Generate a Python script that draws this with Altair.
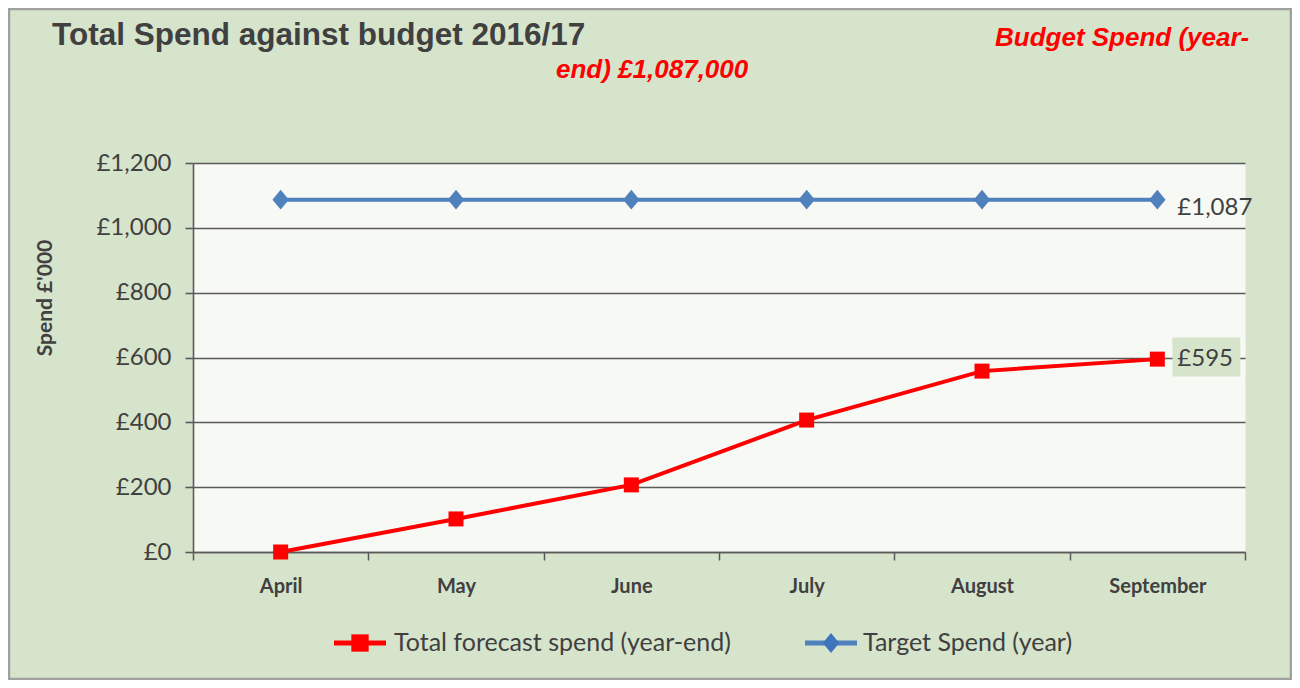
import altair as alt
import pandas as pd

months = ["April", "May", "June", "July", "August", "September"]
forecast = [0, 102, 207, 407, 558, 595]
target = [1087, 1087, 1087, 1087, 1087, 1087]
series_names = ["Total forecast spend (year-end)", "Target Spend (year)"]
series_colors = ["#FF0000", "#4F81BD"]
y_ticks = [0, 200, 400, 600, 800, 1000, 1200]

title_text = "Total Spend against budget 2016/17"
note_line1 = "Budget Spend (year-"
note_line2 = "end) £1,087,000"
y_title = "Spend £'000"

rows = []
for m, v in zip(months, forecast):
    rows.append({"month": m, "value": v, "series": series_names[0]})
for m, v in zip(months, target):
    rows.append({"month": m, "value": v, "series": series_names[1]})
df = pd.DataFrame(rows)

TEXT = "#404040"
GRID = "#5a5a5a"
W, H = 1052, 389
PL, PT, PR, PB = 185, 155, 47, 128

x_enc = alt.X("month:N", sort=months,
              scale=alt.Scale(paddingInner=0, paddingOuter=0),
              axis=alt.Axis(title=None, tickBand="extent", labelAngle=0,
                            labelFont="Lato", labelFontWeight="bold",
                            labelFontSize=20, labelColor=TEXT, labelPadding=16,
                            domainColor=GRID, domainWidth=1.5,
                            tickColor=GRID, tickWidth=1.5, tickSize=8, grid=False))
y_enc = alt.Y("value:Q", scale=alt.Scale(domain=[0, 1200], nice=False),
              axis=alt.Axis(title=None, values=y_ticks,
                            labelExpr="'£' + format(datum.value, ',')",
                            labelFont="Lato", labelFontSize=24, labelColor=TEXT,
                            labelPadding=14, grid=True, gridColor=GRID,
                            gridWidth=1.6, domainColor=GRID, domainWidth=1.6,
                            tickColor=GRID, tickWidth=1.6, tickSize=8))
color_enc = alt.Color("series:N", scale=alt.Scale(domain=series_names, range=series_colors),
                      legend=None)

base = alt.Chart(df)

lines = base.mark_line(strokeWidth=4).encode(x=x_enc, y=y_enc, color=color_enc)
points = base.mark_point(filled=True, opacity=1).encode(
    x=x_enc, y=y_enc,
    color=alt.Color("series:N", scale=alt.Scale(domain=series_names,
                                                range=["#FF0000", "#3E74BA"]), legend=None),
    shape=alt.Shape("series:N", scale=alt.Scale(domain=series_names,
                                                range=["square", "M0,-1.15L0.95,0L0,1.15L-0.95,0Z"]),
                    legend=None),
    size=alt.Size("series:N", scale=alt.Scale(domain=series_names, range=[225, 300]),
                  legend=None),
)

last = base.transform_filter(alt.datum.month == months[-1]).transform_calculate(
    label="'£' + format(datum.value, ',')")

box = last.transform_filter(alt.datum.series == series_names[0]).mark_point(
    filled=True, opacity=1, color="#D7E4CC", size=10000,
    shape="M0.3,-0.43H1.66V0.35H0.3Z").encode(x=x_enc, y=y_enc)

label_red = last.transform_filter(alt.datum.series == series_names[0]).mark_text(
    align="left", baseline="middle", dx=20, dy=0,
    font="Lato", fontSize=24, color=TEXT).encode(x=x_enc, y=y_enc, text="label:N")
label_blue = last.transform_filter(alt.datum.series == series_names[1]).mark_text(
    align="left", baseline="middle", dx=20, dy=8,
    font="Lato", fontSize=24, color=TEXT).encode(x=x_enc, y=y_enc, text="label:N")

one = alt.Chart(pd.DataFrame({"k": [0]}))

title = one.mark_text(align="left", baseline="alphabetic", font="Liberation Sans",
                      fontWeight="bold", fontSize=31.5, color=TEXT).encode(
    x=alt.value(52 - 193), y=alt.value(45 - 163), text=alt.value(title_text))
note1 = one.mark_text(align="left", baseline="alphabetic", font="Liberation Sans",
                      fontWeight="bold", fontStyle="italic", fontSize=26, color="#FF0000").encode(
    x=alt.value(995 - 193), y=alt.value(46 - 163), text=alt.value(note_line1))
note2 = one.mark_text(align="left", baseline="alphabetic", font="Liberation Sans",
                      fontWeight="bold", fontStyle="italic", fontSize=26, color="#FF0000").encode(
    x=alt.value(556 - 193), y=alt.value(78 - 163), text=alt.value(note_line2))
ytitle = one.mark_text(align="center", baseline="middle", angle=270, font="Lato",
                       fontWeight="bold", fontSize=21, color=TEXT).encode(
    x=alt.value(46 - 193), y=alt.value(298 - 163), text=alt.value(y_title))

border = one.mark_rect(fill="transparent", stroke="#A0A0A0", strokeWidth=2.5).encode(
    x=alt.value(-PL + 1), x2=alt.value(W + PR - 1),
    y=alt.value(-PT + 1), y2=alt.value(H + PB - 1))

# legend
leg_y = 643 - 163
leg_red_rule = one.mark_rule(color="#FF0000", strokeWidth=5).encode(
    x=alt.value(334 - 193), x2=alt.value(386 - 193), y=alt.value(leg_y))
leg_red_pt = one.mark_point(filled=True, opacity=1, color="#FF0000", shape="square",
                            size=300).encode(x=alt.value(360 - 193), y=alt.value(leg_y))
leg_red_txt = one.mark_text(align="left", baseline="middle", font="Lato", fontSize=25,
                            color=TEXT).encode(x=alt.value(394 - 193), y=alt.value(leg_y),
                                               text=alt.value(series_names[0]))
leg_blue_rule = one.mark_rule(color="#4F81BD", strokeWidth=5).encode(
    x=alt.value(805 - 193), x2=alt.value(857 - 193), y=alt.value(leg_y))
leg_blue_pt = one.mark_point(filled=True, opacity=1, color="#3E74BA",
                             shape="M0,-1.15L0.95,0L0,1.15L-0.95,0Z",
                             size=300).encode(x=alt.value(831 - 193), y=alt.value(leg_y))
leg_blue_txt = one.mark_text(align="left", baseline="middle", font="Lato", fontSize=25,
                             color=TEXT).encode(x=alt.value(863 - 193), y=alt.value(leg_y),
                                                text=alt.value(series_names[1]))

chart = alt.layer(
    border, lines, points, box, label_red, label_blue, title, note1, note2, ytitle,
    leg_red_rule, leg_red_pt, leg_red_txt, leg_blue_rule, leg_blue_pt, leg_blue_txt
).properties(
    width=W, height=H,
    autosize=alt.AutoSizeParams(type="none"),
    padding={"left": PL, "top": PT, "right": PR, "bottom": PB},
    background="#D7E4CC",
).configure_view(fill="#F7F9F4", stroke="transparent")

chart.save("out.html", embed_options={"renderer": "svg", "actions": False})
